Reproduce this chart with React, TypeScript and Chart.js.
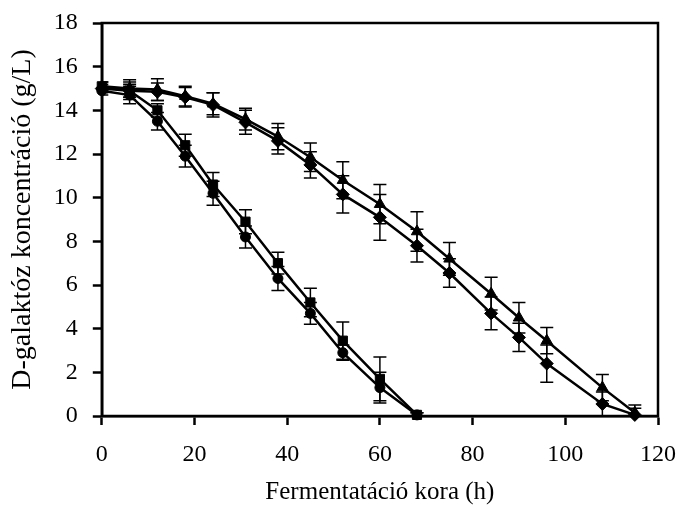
import React, { useEffect, useRef } from "react";
import { Chart, registerables } from "chart.js";

Chart.register(...registerables);

const fastTimes = [0, 6, 12, 18, 24, 31, 38, 45, 52, 60, 68];
const slowTimes = [0, 6, 12, 18, 24, 31, 38, 45, 52, 60, 68, 75, 84, 90, 96, 108, 115];

const squareValues = [15.1, 14.9, 14.0, 12.4, 10.6, 8.9, 7.0, 5.2, 3.45, 1.7, 0.05];
const squareErrors = [0.2, 0.3, 0.3, 0.5, 0.55, 0.55, 0.5, 0.65, 0.85, 1.0, 0.1];
const circleValues = [14.9, 14.7, 13.5, 11.9, 10.2, 8.2, 6.3, 4.7, 2.9, 1.3, 0.05];
const circleErrors = [0.2, 0.4, 0.4, 0.5, 0.55, 0.5, 0.55, 0.5, 0.35, 0.7, 0.1];

const triangleValues = [15.1, 15.0, 14.95, 14.65, 14.3, 13.6, 12.8, 11.85, 10.8, 9.7, 8.45, 7.2, 5.6, 4.5, 3.45, 1.3, 0.15];
const triangleErrors = [0.2, 0.4, 0.5, 0.45, 0.5, 0.5, 0.6, 0.65, 0.85, 0.9, 0.9, 0.75, 0.75, 0.7, 0.6, 0.6, 0.35];
const diamondValues = [15.0, 14.9, 14.85, 14.6, 14.25, 13.45, 12.6, 11.5, 10.15, 9.1, 7.8, 6.55, 4.7, 3.6, 2.4, 0.55, 0.05];
const diamondErrors = [0.2, 0.4, 0.4, 0.45, 0.55, 0.55, 0.6, 0.6, 0.85, 1.05, 0.75, 0.65, 0.75, 0.65, 0.85, 0.55, 0.3];

const xTitle = "Fermentatáció kora (h)";
const yTitle = "D-galaktóz koncentráció (g/L)";

const FONT = "'Liberation Serif', 'Times New Roman', serif";

function pts(xs: number[], ys: number[]) {
  return xs.map((x, i) => ({ x, y: ys[i] }));
}

const errorBarPlugin = {
  id: "errorBars",
  afterDatasetsDraw(chart: any) {
    const { ctx, chartArea, scales } = chart;
    ctx.save();
    ctx.beginPath();
    ctx.rect(chartArea.left, chartArea.top, chartArea.right - chartArea.left, chartArea.bottom - chartArea.top);
    ctx.clip();
    ctx.strokeStyle = "#000";
    ctx.lineWidth = 1.5;
    chart.data.datasets.forEach((ds: any) => {
      const errs: number[] = ds.errors || [];
      ds.data.forEach((p: any, i: number) => {
        const e = errs[i];
        if (!e) return;
        const x = scales.x.getPixelForValue(p.x);
        const y1 = scales.y.getPixelForValue(p.y + e);
        const y2 = scales.y.getPixelForValue(p.y - e);
        const cap = 6.5;
        ctx.beginPath();
        ctx.moveTo(x, y1);
        ctx.lineTo(x, y2);
        ctx.moveTo(x - cap, y1);
        ctx.lineTo(x + cap, y1);
        ctx.moveTo(x - cap, y2);
        ctx.lineTo(x + cap, y2);
        ctx.stroke();
      });
    });
    ctx.restore();
  },
};

const boxPlugin = {
  id: "box",
  beforeDatasetsDraw(chart: any) {
    const { ctx, chartArea } = chart;
    ctx.save();
    ctx.strokeStyle = "#000";
    ctx.lineWidth = 2.5;
    ctx.strokeRect(chartArea.left, chartArea.top, chartArea.right - chartArea.left, chartArea.bottom - chartArea.top);
    ctx.restore();
  },
};

function zeroPad(scale: any) {
  scale.paddingLeft = 0;
  scale.paddingRight = 0;
  scale.paddingTop = 0;
  scale.paddingBottom = 0;
}

export default function App() {
  const ref = useRef<HTMLCanvasElement>(null);

  useEffect(() => {
    document.body.style.margin = "0";
    const canvas = ref.current;
    if (!canvas) return;
    const common = {
      showLine: true,
      borderColor: "#000",
      backgroundColor: "#000",
      pointBackgroundColor: "#000",
      pointBorderColor: "#000",
      borderWidth: 2.5,
      pointBorderWidth: 1,
      clip: false as any,
    };
    const chart = new Chart(canvas, {
      type: "scatter",
      data: {
        datasets: [
          { ...common, label: "square", data: pts(fastTimes, squareValues), errors: squareErrors, pointStyle: "rect", pointRadius: 6.5 } as any,
          { ...common, label: "circle", data: pts(fastTimes, circleValues), errors: circleErrors, pointStyle: "circle", pointRadius: 5 } as any,
          { ...common, label: "triangle", data: pts(slowTimes, triangleValues), errors: triangleErrors, pointStyle: "triangle", pointRadius: 6.5 } as any,
          { ...common, label: "diamond", data: pts(slowTimes, diamondValues), errors: diamondErrors, pointStyle: "rectRot", pointRadius: 6.5 } as any,
        ],
      },
      options: {
        responsive: false,
        animation: false,
        layout: { padding: { top: 23, right: 22, left: 6, bottom: -1 } },
        plugins: { legend: { display: false }, tooltip: { enabled: false } },
        scales: {
          x: {
            type: "linear",
            min: 0,
            max: 120,
            afterFit: zeroPad,
            border: { display: true, color: "#000", width: 2.5 },
            grid: { drawOnChartArea: false, drawTicks: true, tickLength: 9, tickWidth: 2.5, tickColor: "#000" },
            ticks: { stepSize: 20, color: "#000", font: { family: FONT, size: 24 }, padding: 15.5 },
            title: { display: true, text: xTitle, color: "#000", font: { family: FONT, size: 25 }, padding: { top: -7.8, bottom: 0 } },
          },
          y: {
            type: "linear",
            min: 0,
            max: 18,
            afterFit: zeroPad,
            border: { display: true, color: "#000", width: 2.5 },
            grid: { drawOnChartArea: false, drawTicks: true, tickLength: 9, tickWidth: 2.5, tickColor: "#000" },
            ticks: { stepSize: 2, color: "#000", font: { family: FONT, size: 24 }, padding: 15 },
            title: { display: true, text: yTitle, color: "#000", font: { family: FONT, size: 28 }, padding: { top: 0, bottom: -0.8 } },
          },
        },
      },
      plugins: [boxPlugin, errorBarPlugin],
    });
    return () => chart.destroy();
  }, []);

  return <canvas ref={ref} width={680} height={506} style={{ display: "block" }} />;
}
